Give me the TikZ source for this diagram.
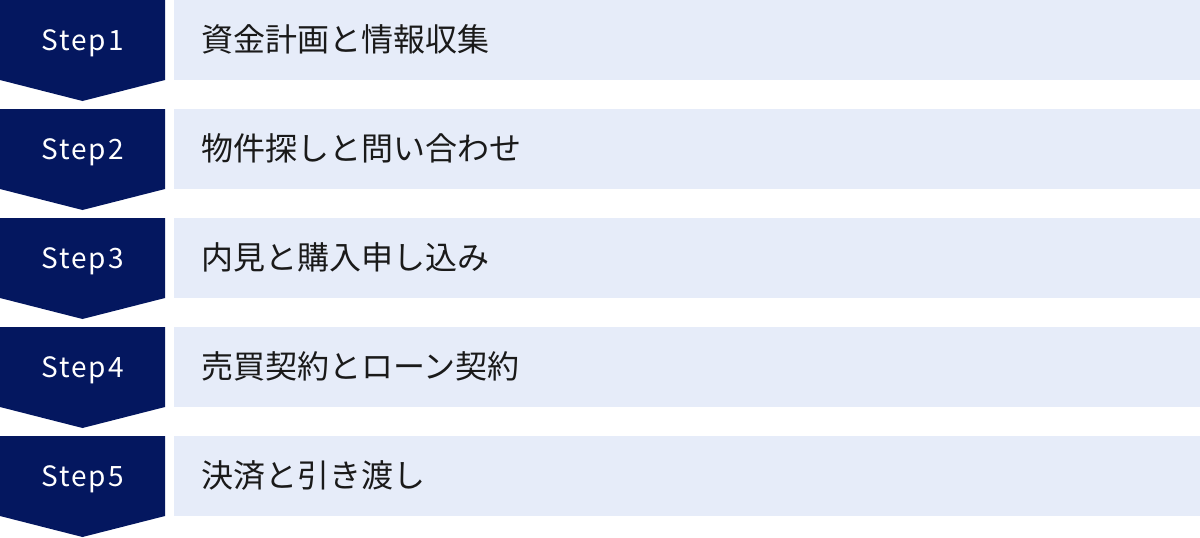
\documentclass[tikz,border=0pt]{standalone}
\usepackage{fontspec}
\setmainfont{Noto Sans CJK JP}
\newfontfamily\steplabelfont[LetterSpace=7]{Noto Sans CJK JP}
\usetikzlibrary{positioning}

\definecolor{stepnavy}{HTML}{04175F}
\definecolor{rowblue}{HTML}{E6ECF9}
\definecolor{rowtext}{HTML}{1A1A1A}

\tikzset{
  stepbox/.style={fill=stepnavy},
  steplabel/.style={text=white,font=\steplabelfont\fontsize{28}{32}\selectfont,inner sep=0pt,anchor=base},
  titlebox/.style={fill=rowblue,anchor=north west,minimum width=1026pt,minimum height=80pt,
                   inner sep=0pt},
  titletext/.style={anchor=west,inner sep=0pt,text=rowtext,font=\fontsize{32}{38}\selectfont}
}

\begin{document}
\begin{tikzpicture}[x=1pt,y=-1pt]
 \useasboundingbox (0,0) rectangle (1200,538);
 \foreach \i/\txt in {1/資金計画と情報収集,
                      2/物件探しと問い合わせ,
                      3/内見と購入申し込み,
                      4/売買契約とローン契約,
                      5/決済と引き渡し}
 {
   \pgfmathsetmacro\top{(\i-1)*109}
   % chevron
   \fill[stepbox] (0,\top) -- (165,\top) -- (165,\top+80) -- (82.5,\top+101) -- (0,\top+80) -- cycle;
   \node[steplabel] (step\i) at (82.5,\top+50) {Step\i};
   \node[titlebox] (row\i) at (174,\top) {};
   \node[titletext] (title\i) at (201,\top+39) {\txt};
 }
\end{tikzpicture}
\end{document}
